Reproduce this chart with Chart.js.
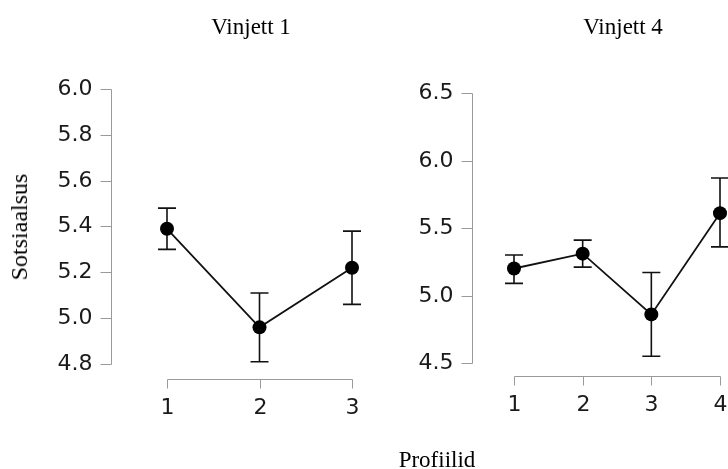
<!DOCTYPE html>
<html>
<head>
<meta charset="utf-8">
<script src="https://cdn.jsdelivr.net/npm/chart.js@4"></script>
<style>
  body { margin: 0; background: #fff; }
  #wrap { position: relative; width: 728px; height: 469px; overflow: hidden; }
  canvas { position: absolute; top: 0; }
  .lbl { position: absolute; font-family: "Liberation Serif", "Times New Roman", serif; font-size: 23px;
         line-height: 1; color: #000; white-space: nowrap; transform: translate(-50%, -50%); }
</style>
</head>
<body>
<div id="wrap">
  <canvas id="vinjett1" width="380" height="469" style="left:0"></canvas>
  <canvas id="vinjett4" width="348" height="469" style="left:380px"></canvas>
  <div class="lbl" style="left:251px; top:26px">Vinjett 1</div>
  <div class="lbl" style="left:623px; top:26px">Vinjett 4</div>
  <div class="lbl" style="left:437px; top:459px">Profiilid</div>
  <div class="lbl" style="left:19px; top:227px; font-size:24px; transform: translate(-50%, -50%) rotate(-90deg)">Sotsiaalsus</div>
</div>
<script>
// Vinjett 1
const profiles1 = [1, 2, 3];
const means1 = [5.39, 4.96, 5.22];
const lower1 = [5.30, 4.81, 5.06];
const upper1 = [5.48, 5.11, 5.38];
const yTicks1 = [4.8, 5.0, 5.2, 5.4, 5.6, 5.8, 6.0];

// Vinjett 4
const profiles4 = [1, 2, 3, 4];
const means4 = [5.20, 5.31, 4.86, 5.61];
const lower4 = [5.09, 5.21, 4.55, 5.36];
const upper4 = [5.30, 5.41, 5.17, 5.87];
const yTicks4 = [4.5, 5.0, 5.5, 6.0, 6.5];

const AXIS_COLOR = '#9a9a9a';
const TICK_FONT = '22px "DejaVu Sans", Verdana, sans-serif';

// error bars + detached axes, all positioned through the chart scales
const jaspPlugin = {
  id: 'jasp',
  beforeDatasetsDraw(chart, args, opts) {
    const {ctx, scales: {x, y}} = chart;
    ctx.save();
    ctx.strokeStyle = '#111';
    ctx.lineWidth = 1.6;
    opts.profiles.forEach((p, i) => {
      const px = x.getPixelForValue(p);
      const top = y.getPixelForValue(opts.upper[i]);
      const bot = y.getPixelForValue(opts.lower[i]);
      ctx.beginPath();
      ctx.moveTo(px, top); ctx.lineTo(px, bot);
      ctx.moveTo(px - 9, top); ctx.lineTo(px + 9, top);
      ctx.moveTo(px - 9, bot); ctx.lineTo(px + 9, bot);
      ctx.stroke();
    });
    ctx.restore();
  },
  afterDraw(chart, args, opts) {
    const {ctx, chartArea, scales: {x, y}} = chart;
    const ax = Math.round(chartArea.left - opts.yGap) + 0.5;
    const ay = Math.round(chartArea.bottom + opts.xGap) + 0.5;
    ctx.save();
    ctx.strokeStyle = AXIS_COLOR;
    ctx.lineWidth = 1;
    ctx.fillStyle = '#1a1a1a';
    ctx.font = TICK_FONT;

    // y axis
    const yTop = Math.round(y.getPixelForValue(opts.yTicks[opts.yTicks.length - 1])) + 0.5;
    const yBot = Math.round(y.getPixelForValue(opts.yTicks[0])) + 0.5;
    ctx.beginPath();
    ctx.moveTo(ax, yTop); ctx.lineTo(ax, yBot);
    ctx.stroke();
    ctx.textAlign = 'right';
    ctx.textBaseline = 'middle';
    opts.yTicks.forEach(t => {
      const py = Math.round(y.getPixelForValue(t)) + 0.5;
      ctx.beginPath();
      ctx.moveTo(ax - 11, py); ctx.lineTo(ax, py);
      ctx.stroke();
      ctx.fillText(t.toFixed(1), ax - 19, py);
    });

    // x axis
    const xL = Math.round(x.getPixelForValue(opts.profiles[0])) + 0.5;
    const xR = Math.round(x.getPixelForValue(opts.profiles[opts.profiles.length - 1])) + 0.5;
    ctx.beginPath();
    ctx.moveTo(xL, ay); ctx.lineTo(xR, ay);
    ctx.stroke();
    ctx.textAlign = 'center';
    opts.profiles.forEach(p => {
      const px = Math.round(x.getPixelForValue(p)) + 0.5;
      ctx.beginPath();
      ctx.moveTo(px, ay); ctx.lineTo(px, ay + 9);
      ctx.stroke();
      ctx.fillText(String(p), px, ay + 29);
    });
    ctx.restore();
  }
};

function makePanel(id, profiles, means, lower, upper, yTicks, padding, yGap, xGap) {
  return new Chart(document.getElementById(id), {
    type: 'line',
    data: {
      datasets: [{
        data: profiles.map((p, i) => ({x: p, y: means[i]})),
        borderColor: '#111',
        borderWidth: 1.8,
        pointRadius: 7,
        pointBackgroundColor: '#000',
        pointBorderColor: '#000',
        pointBorderWidth: 0,
        clip: false,
        tension: 0
      }]
    },
    options: {
      responsive: false,
      animation: false,
      events: [],
      layout: {padding: padding, autoPadding: false},
      plugins: {
        legend: {display: false},
        tooltip: {enabled: false},
        jasp: {profiles, lower, upper, yTicks, yGap, xGap}
      },
      scales: {
        x: {type: 'linear', display: false, min: profiles[0], max: profiles[profiles.length - 1]},
        y: {display: false, min: yTicks[0], max: yTicks[yTicks.length - 1]}
      }
    },
    plugins: [jaspPlugin]
  });
}

makePanel('vinjett1', profiles1, means1, lower1, upper1, yTicks1,
  {left: 167, right: 28, top: 89, bottom: 105}, 56, 15);
makePanel('vinjett4', profiles4, means4, lower4, upper4, yTicks4,
  {left: 134, right: 8, top: 93, bottom: 106}, 42, 13);
</script>
</body>
</html>
